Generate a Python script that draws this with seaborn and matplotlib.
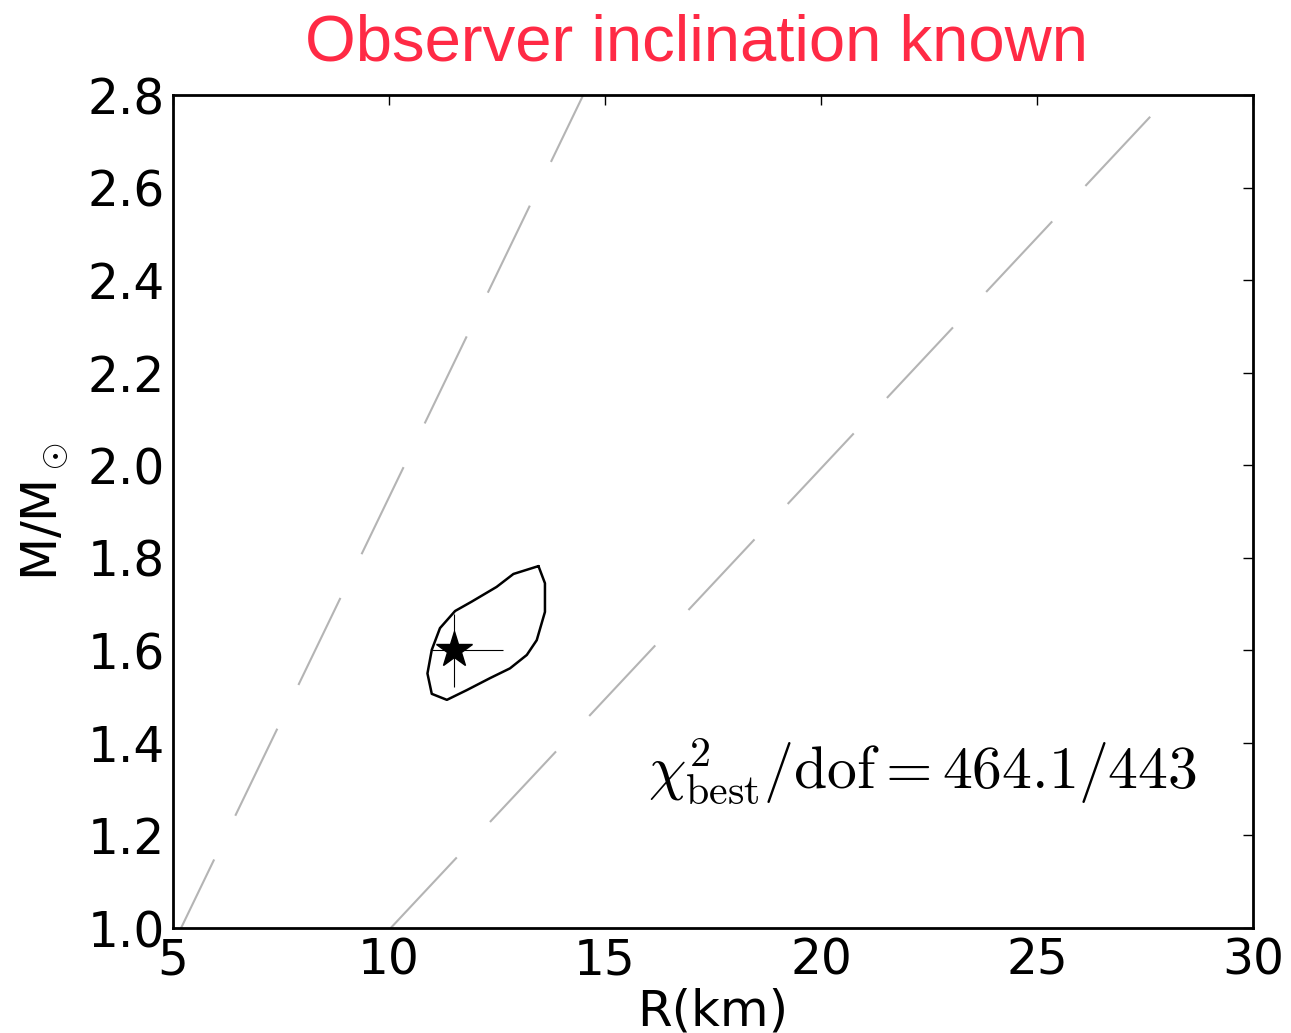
import matplotlib
matplotlib.use("Agg")
import matplotlib.pyplot as plt
import seaborn as sns
import numpy as np
import pandas as pd

# ---- data ----
# constant-compactness reference lines (R in km, M in Msun)
line1_R = [4.98, 14.6]
line1_M = [0.96, 2.82]
line2_R = [10.04, 27.62]
line2_M = [1.0, 2.753]

# confidence contour
contour_R = [13.46, 13.61, 13.61, 13.42, 13.19, 12.80, 12.34, 11.80, 11.34, 10.99,
             10.89, 10.99, 11.18, 11.53, 11.91, 12.49, 12.88, 13.46]
contour_M = [1.782, 1.745, 1.683, 1.622, 1.590, 1.561, 1.540, 1.514, 1.493, 1.506,
             1.550, 1.601, 1.648, 1.685, 1.705, 1.737, 1.765, 1.782]

# best fit
best_R = [11.5]
best_M = [1.60]
err_R_lo = [0.51]
err_R_hi = [1.15]
err_M_lo = [0.08]
err_M_hi = [0.078]

xticks = [5, 10, 15, 20, 25, 30]
yticks = [1.0, 1.2, 1.4, 1.6, 1.8, 2.0, 2.2, 2.4, 2.6, 2.8]

title = "Observer inclination known"
chi_text = r"$\chi^2_{\rm best}/{\rm dof} = 464.1/443$"

# ---- plot ----
sns.set_style("white")
plt.rcParams['font.family'] = ['DejaVu Sans']
plt.rcParams['mathtext.fontset'] = 'cm'

fig = plt.figure(figsize=(12.91, 10.33), dpi=100)
ax = fig.add_axes([173/1291, 105/1033, 1080/1291, 833/1033])

grey = "#b4b4b4"
for R, M in [(line1_R, line1_M), (line2_R, line2_M)]:
    df = pd.DataFrame({"R": R, "M": M})
    sns.lineplot(data=df, x="R", y="M", ax=ax, color=grey, lw=1.5,
                 sort=False, estimator=None)
    ax.lines[-1].set_dashes((46.4, 23.3))

dfc = pd.DataFrame({"R": contour_R, "M": contour_M})
sns.lineplot(data=dfc, x="R", y="M", ax=ax, color="black", lw=1.8,
             sort=False, estimator=None)

ax.errorbar(best_R, best_M, xerr=[err_R_lo, err_R_hi], yerr=[err_M_lo, err_M_hi],
            fmt="none", ecolor="black", elinewidth=0.8, capsize=0)
ax.plot(best_R, best_M, marker="*", color="black", ms=27, ls="none")

ax.text(16.0, 1.30, chi_text, fontsize=43, color="black")

ax.set_xlim(5, 30)
ax.set_ylim(1.0, 2.8)
ax.set_xticks(xticks)
ax.set_yticks(yticks)
ax.set_xticklabels([str(t) for t in xticks])
ax.set_yticklabels([f"{t:.1f}" for t in yticks])
ax.tick_params(direction="in", length=7, width=1.0, top=True, right=True,
               labelsize=35, pad=6, colors="black")
for s in ax.spines.values():
    s.set_linewidth(2.0)
    s.set_color("black")

ax.set_xlabel("R(km)", fontsize=36, labelpad=2, color="black")
ax.set_ylabel(r"M/M$_\odot$", fontsize=36, labelpad=12, color="black")
ax.set_title(title, fontsize=47, color="#ff2a45", family="Liberation Sans",
             x=0.485, pad=25)

fig.savefig("out.png", dpi=100, facecolor="white")
